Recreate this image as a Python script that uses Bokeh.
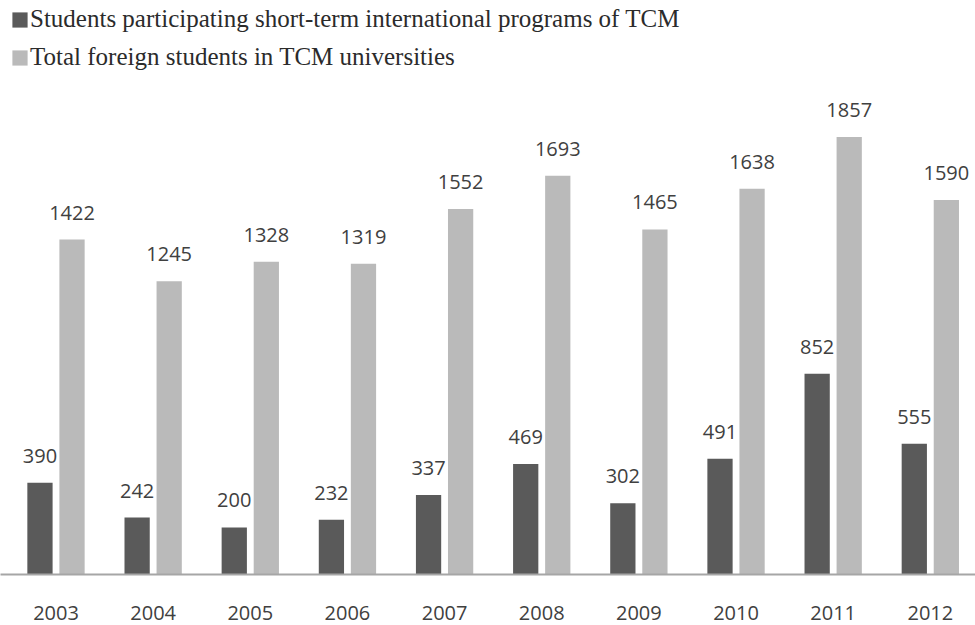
from bokeh.plotting import figure
from bokeh.models import (ColumnDataSource, Legend, LegendItem, FixedTicker,
                          LabelSet, Range1d)
from bokeh.transform import dodge
from bokeh.core.properties import value
from bokeh.embed import file_html
from bokeh.resources import INLINE

years = ["2003", "2004", "2005", "2006", "2007", "2008", "2009", "2010", "2011", "2012"]
short_term = [390, 242, 200, 232, 337, 469, 302, 491, 852, 555]
total_foreign = [1422, 1245, 1328, 1319, 1552, 1693, 1465, 1638, 1857, 1590]

name_short = "Students participating short-term international programs of TCM"
name_total = "Total foreign students in TCM universities"

DARK = "#5a5a5a"
LIGHT = "#bababa"
TEXT = "#404040"

xs = list(range(len(years)))
src = ColumnDataSource(dict(
    x=xs,
    short=short_term,
    total=total_foreign,
    short_lbl=[str(v) for v in short_term],
    total_lbl=[str(v) for v in total_foreign],
))

p = figure(width=975, height=625, title=None,
           x_range=Range1d(-0.5713, 9.465), y_range=Range1d(0, 2437),
           output_backend="svg", toolbar_location=None,
           y_axis_location=None,
           min_border_left=0, min_border_right=0,
           min_border_top=0, min_border_bottom=51)
p.outline_line_color = None
p.xgrid.visible = False
p.ygrid.visible = False
p.background_fill_color = "white"

OFF = 0.165
W = 0.26
r1 = p.vbar(x=dodge("x", -OFF, range=p.x_range), top="short", width=W,
            bottom=0, source=src, fill_color=DARK, line_color=None)
r2 = p.vbar(x=dodge("x", OFF, range=p.x_range), top="total", width=W,
            bottom=0, source=src, fill_color=LIGHT, line_color=None)

for col, off in (("short", -OFF), ("total", OFF)):
    ls = LabelSet(x=dodge("x", off, range=p.x_range), y=col, text=col + "_lbl",
                  source=src, text_align="center", text_baseline="alphabetic",
                  y_offset=20, text_font=value("Open Sans"),
                  text_font_size=value("20px"), text_color=value(TEXT))
    p.add_layout(ls)

ax = p.xaxis[0]
ax.ticker = FixedTicker(ticks=xs)
ax.major_label_overrides = {i: y for i, y in zip(xs, years)}
ax.major_tick_out = 0
ax.major_tick_in = 0
ax.minor_tick_out = 0
ax.minor_tick_in = 0
ax.major_tick_line_color = None
ax.minor_tick_line_color = None
ax.axis_line_color = "#a6a6a6"
ax.axis_line_width = 2
ax.major_label_standoff = 31
ax.major_label_text_font = "Open Sans"
ax.major_label_text_font_size = "20px"
ax.major_label_text_color = TEXT

legend = Legend(items=[LegendItem(label=name_short, renderers=[r1]),
                       LegendItem(label=name_total, renderers=[r2])],
                location=(10, 503), orientation="vertical",
                glyph_width=19, glyph_height=19, label_standoff=1,
                label_text_font="Liberation Serif", label_text_font_size="25px",
                label_text_color="#2b2b2b", spacing=10, padding=0, margin=0,
                background_fill_alpha=0, border_line_alpha=0)
p.add_layout(legend)

open("out.html", "w").write(file_html(p, INLINE))
